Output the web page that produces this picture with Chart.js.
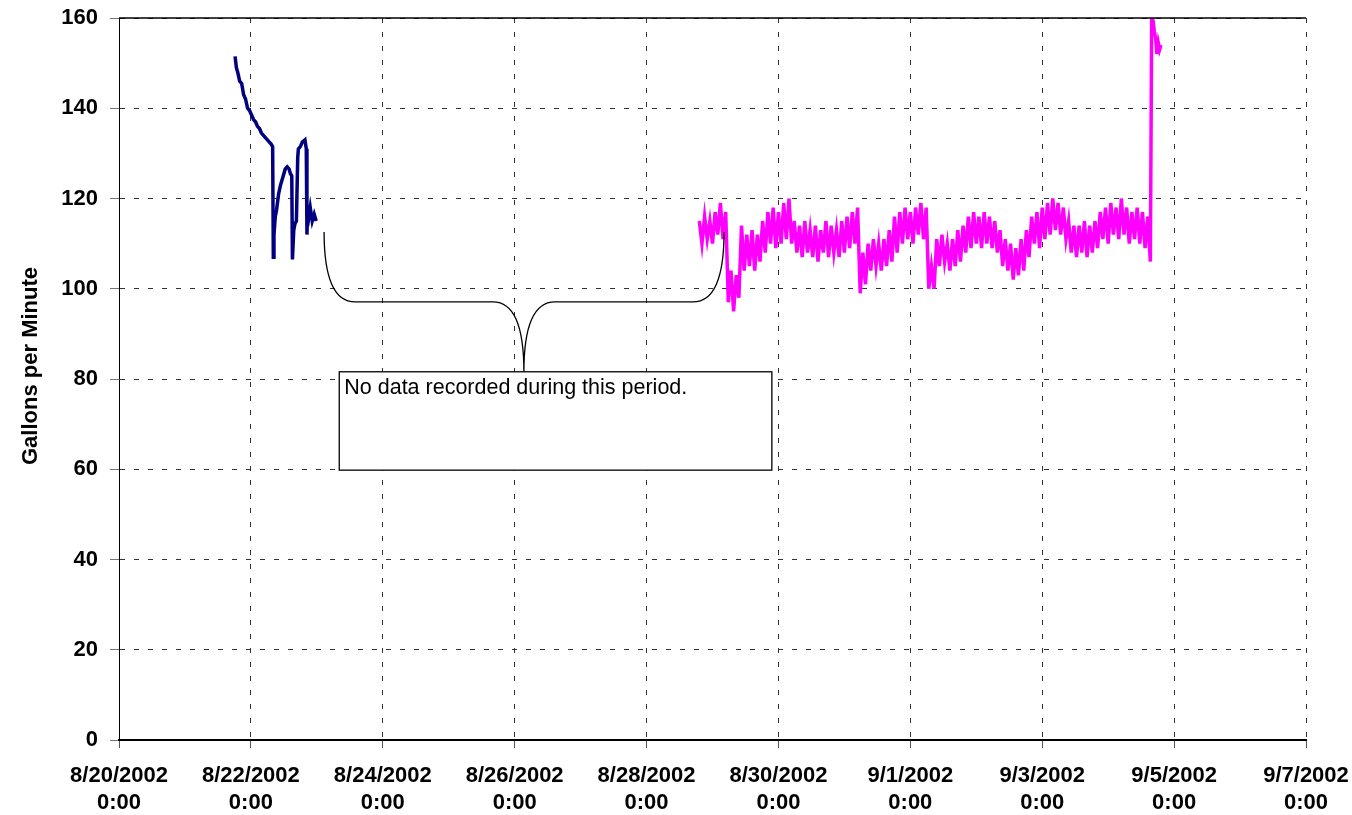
<!DOCTYPE html>
<html>
<head>
<meta charset="utf-8">
<script src="https://cdn.jsdelivr.net/npm/chart.js@4.4.1/dist/chart.umd.min.js"></script>
<style>
  html, body { margin: 0; padding: 0; background: #fff; }
  #wrap { width: 1352px; height: 815px; }
</style>
</head>
<body>
<div id="wrap"><canvas id="flowChart" width="1352" height="815"></canvas></div>
<script>
// ---- data (days counted from 8/20/2002 0:00) ----
const xTickLabels = ['8/20/2002', '8/22/2002', '8/24/2002', '8/26/2002', '8/28/2002',
                     '8/30/2002', '9/1/2002', '9/3/2002', '9/5/2002', '9/7/2002'];
const xTickTime = '0:00';
const yTitle = 'Gallons per Minute';
const noteText = 'No data recorded during this period.';

// first logger period (navy)
const blueDays = [1.76, 1.78, 1.80, 1.83, 1.86, 1.89, 1.92, 1.95, 1.98, 2.01,
                  2.04, 2.07, 2.10, 2.13, 2.16, 2.19, 2.22, 2.25, 2.28, 2.31,
                  2.33, 2.34, 2.35, 2.37, 2.39, 2.42, 2.45, 2.49, 2.52, 2.55,
                  2.58, 2.60, 2.62, 2.63, 2.65, 2.67, 2.69, 2.71, 2.72, 2.75,
                  2.78, 2.82, 2.84, 2.85, 2.86, 2.88, 2.90, 2.93, 2.96, 2.99];
const blueValues = [151.5, 149, 148, 146, 145.5, 143, 142, 140, 139.5, 138.5,
                    137.5, 137, 136, 135.5, 134.5, 134, 133.5, 133, 132.5, 132,
                    131.5, 107, 112, 116, 117.5, 121, 123, 125, 126.5, 127,
                    126.5, 125.5, 125, 106.5, 113, 114.5, 115, 129, 131, 131.5,
                    132.5, 133, 131, 112, 117.5, 116, 118, 115, 116.5, 115];

// second logger period (magenta), logged every 0.04 day from day 8.80
const magentaStart = 8.80;
const magentaStep = 0.04;
const magentaValues = [
  115, 110, 116, 111, 115, 110, 117, 112, 119, 111,
  117, 97, 104, 95, 103, 98, 114, 104, 112, 105, 113, 104, 112, 106, 115, 108,
  117, 110, 118, 109, 117, 110, 119, 111, 120, 110,
  115, 108, 114, 107, 115, 108, 113, 107, 114, 106, 113, 108, 115, 107, 114, 108,
  113, 107, 115, 108, 116, 109, 117, 110, 118,
  99, 108, 101, 110, 104, 111, 105, 110, 104, 111, 105, 113, 106, 116, 108, 117, 110,
  118, 111, 117, 110, 118, 112, 119, 111, 118,
  100, 105, 100,
  111, 105, 112, 106, 110, 104, 111, 105, 113, 106, 114, 108,
  116, 109, 117, 110, 116, 109, 117, 110, 116, 109, 115, 108, 113,
  105, 111, 104, 110, 102, 109, 103, 111, 104, 113, 107,
  116, 110, 117, 109, 118, 111,
  119, 112, 120, 113, 119, 112, 118, 111,
  115, 108, 114, 107, 114, 108, 115, 107, 114, 108, 115, 109,
  117, 111, 118, 110, 119, 112, 118, 111, 120, 112, 118, 110, 117, 111, 118, 110,
  117, 109, 116, 106
];
const magentaTailDays = [15.66, 15.68, 15.70, 15.72, 15.74, 15.76, 15.78, 15.80];
const magentaTailValues = [160, 159.5, 157, 155.5, 152, 154.5, 153, 154];

// ---- build points ----
const bluePoints = blueDays.map((d, i) => ({ x: d, y: blueValues[i] }));
const magentaPoints = magentaValues.map((v, i) => ({ x: magentaStart + i * magentaStep, y: v }))
  .concat(magentaTailDays.map((d, i) => ({ x: d, y: magentaTailValues[i] })));

const FONT = 'Arial, "Liberation Sans", sans-serif';

// brace + text box, placed in data units
const note = {
  braceLeft: 3.11, braceMid: 6.14, braceRight: 9.175,
  braceTop: 112.6, braceBar: 97.1, braceTip: 81.6,
  boxLeft: 3.34, boxRight: 9.90, boxTop: 81.6, boxBottom: 59.8
};

const notePlugin = {
  id: 'notePlugin',
  afterDatasetsDraw(chart) {
    const { ctx, chartArea, scales: { x, y } } = chart;
    ctx.save();

    // solid top border
    ctx.strokeStyle = '#000';
    ctx.lineWidth = 1.5;
    ctx.beginPath();
    ctx.moveTo(chartArea.left, chartArea.top);
    ctx.lineTo(chartArea.right, chartArea.top);
    ctx.stroke();

    // curly brace
    const xl = x.getPixelForValue(note.braceLeft);
    const xm = x.getPixelForValue(note.braceMid);
    const xr = x.getPixelForValue(note.braceRight);
    const yt = y.getPixelForValue(note.braceTop);
    const yb = y.getPixelForValue(note.braceBar);
    const yp = y.getPixelForValue(note.braceTip);
    const r = 31;
    ctx.lineWidth = 1.3;
    ctx.beginPath();
    ctx.moveTo(xl, yt);
    ctx.quadraticCurveTo(xl, yb, xl + r, yb);
    ctx.lineTo(xm - r, yb);
    ctx.quadraticCurveTo(xm, yb, xm, yp);
    ctx.quadraticCurveTo(xm, yb, xm + r, yb);
    ctx.lineTo(xr - r, yb);
    ctx.quadraticCurveTo(xr, yb, xr, yt);
    ctx.stroke();

    // text box
    const bl = x.getPixelForValue(note.boxLeft);
    const br = x.getPixelForValue(note.boxRight);
    const bt = y.getPixelForValue(note.boxTop);
    const bb = y.getPixelForValue(note.boxBottom);
    ctx.fillStyle = '#fff';
    ctx.fillRect(bl, bt, br - bl, bb - bt);
    ctx.lineWidth = 1.3;
    ctx.strokeRect(bl, bt, br - bl, bb - bt);
    ctx.fillStyle = '#000';
    ctx.font = '21.5px ' + FONT;
    ctx.textBaseline = 'alphabetic';
    ctx.textAlign = 'left';
    ctx.fillText(noteText, bl + 5, bt + 22);

    // y axis title
    ctx.save();
    ctx.translate(31, 366);
    ctx.rotate(-Math.PI / 2);
    ctx.font = 'bold 22px ' + FONT;
    ctx.textAlign = 'center';
    ctx.textBaseline = 'middle';
    ctx.fillText(yTitle, 0, 0);
    ctx.restore();

    ctx.restore();
  }
};

new Chart(document.getElementById('flowChart'), {
  type: 'line',
  data: {
    datasets: [
      {
        label: 'Flow 1',
        data: bluePoints,
        borderColor: '#000080',
        borderWidth: 3.5,
        pointRadius: 0,
        tension: 0
      },
      {
        label: 'Flow 2',
        data: magentaPoints,
        borderColor: '#FF00FF',
        borderWidth: 3.5,
        pointRadius: 0,
        tension: 0
      }
    ]
  },
  options: {
    responsive: false,
    animation: false,
    devicePixelRatio: 1,
    layout: { padding: { top: 18, right: 46, left: 0, bottom: 0 } },
    plugins: {
      legend: { display: false },
      tooltip: { enabled: false }
    },
    scales: {
      x: {
        type: 'linear',
        min: 0,
        max: 18,
        afterFit(scale) {
          scale.height = 75;
          scale.paddingLeft = 0;
          scale.paddingRight = 0;
        },
        afterBuildTicks(scale) {
          scale.ticks = xTickLabels.map((_, i) => ({ value: i * 2 }));
        },
        ticks: {
          autoSkip: false,
          maxRotation: 0,
          padding: 15,
          color: '#000',
          font: { family: FONT, size: 22, weight: 'bold' },
          callback: (value) => [xTickLabels[Math.round(value / 2)], xTickTime]
        },
        grid: {
          color: '#333',
          lineWidth: 1,
          tickLength: 8,
          tickColor: '#555',
          tickBorderDash: []
        },
        border: { display: true, color: '#000', width: 2, dash: [5, 9] }
      },
      y: {
        min: 0,
        max: 160,
        afterFit(scale) {
          scale.width = 119;
          scale.paddingTop = 0;
          scale.paddingBottom = 0;
        },
        ticks: {
          stepSize: 20,
          padding: 12,
          color: '#000',
          font: { family: FONT, size: 22, weight: 'bold' }
        },
        grid: {
          color: '#333',
          lineWidth: 1,
          tickLength: 9,
          tickColor: '#777',
          tickBorderDash: []
        },
        border: { display: true, color: '#000', width: 1, dash: [5, 9] }
      }
    }
  },
  plugins: [notePlugin]
});
</script>
</body>
</html>
